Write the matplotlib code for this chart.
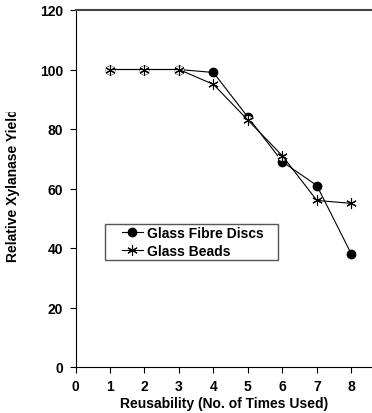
import matplotlib
matplotlib.use("Agg")
import matplotlib.pyplot as plt
from matplotlib.transforms import Bbox
from matplotlib.font_manager import FontProperties
from matplotlib.patches import Rectangle

uses = [1, 2, 3, 4, 5, 6, 7, 8]
fibre_discs = [100, 100, 100, 99, 84, 69, 61, 38]
glass_beads = [100, 100, 100, 95, 83, 71, 56, 55]
xticks = [0, 1, 2, 3, 4, 5, 6, 7, 8]
yticks = [0, 20, 40, 60, 80, 100, 120]


def bold():
    return FontProperties(family='Liberation Sans', weight='bold', size=10)


W, H = 372, 414
AX_L, AX_B, AX_W, AX_H = 75.5, 368, 296.5, 357
fig = plt.figure(figsize=(W/100, H/100), dpi=100)
ax = fig.add_axes([AX_L/W, 1-AX_B/H, AX_W/W, AX_H/H])

ax.plot(uses, fibre_discs, color='black', lw=0.8, marker='o', ms=6,
        mfc='black', mec='black', label='Glass Fibre Discs', zorder=3)
# white backing under star markers
ax.plot(uses, glass_beads, ls='none', marker='o', ms=6.5, mfc='white', mec='none', zorder=4)
ax.plot(uses, glass_beads, color='black', lw=0.8, marker=(6, 2, 0), ms=7.5,
        mew=0.8, mec='black', label='Glass Beads', zorder=5)

ax.set_xlim(0, 8.6)
ax.set_ylim(0, 120)
ax.set_xticks(xticks)
ax.set_yticks(yticks)
ax.tick_params(axis='both', direction='out', length=4.5, width=0.8, labelsize=10)
ax.tick_params(axis='y', pad=4.5)
ax.tick_params(axis='x', pad=4)
for lab in ax.get_xticklabels() + ax.get_yticklabels():
    lab.set_fontproperties(bold())

ax.spines['right'].set_visible(False)
ax.spines['top'].set_color('#444444')
ax.spines['top'].set_linewidth(1.5)
ax.spines['left'].set_linewidth(0.8)
ax.spines['bottom'].set_linewidth(0.8)

ax.set_xlabel('Reusability (No. of Times Used)', fontproperties=bold(), labelpad=2)

yl = fig.text(13/W, 1-262/H, 'Relative Xylanase Yield', rotation=90,
              ha='center', va='bottom')
yl.set_fontproperties(bold())
yl.set_clip_box(Bbox.from_extents(0, 0, W, H - 113))
yl.set_clip_on(True)

# legend entries (frame drawn separately to get the wider side padding)
leg = ax.legend(loc='upper left',
                bbox_to_anchor=((122 - AX_L)/AX_W, (AX_B - 227)/AX_H),
                borderaxespad=0, borderpad=0, prop=bold(), frameon=False,
                handlelength=1.5, handletextpad=0.3, labelspacing=0.3)
for t in leg.get_texts():
    t.set_fontproperties(bold())
frame = Rectangle(((105 - AX_L)/AX_W, (AX_B - 261)/AX_H), 173/AX_W, 36/AX_H,
                  transform=ax.transAxes, fill=True, facecolor='white',
                  edgecolor='#555555', lw=1.0, zorder=4.8)
ax.add_patch(frame)

fig.savefig('out.png', dpi=100)
